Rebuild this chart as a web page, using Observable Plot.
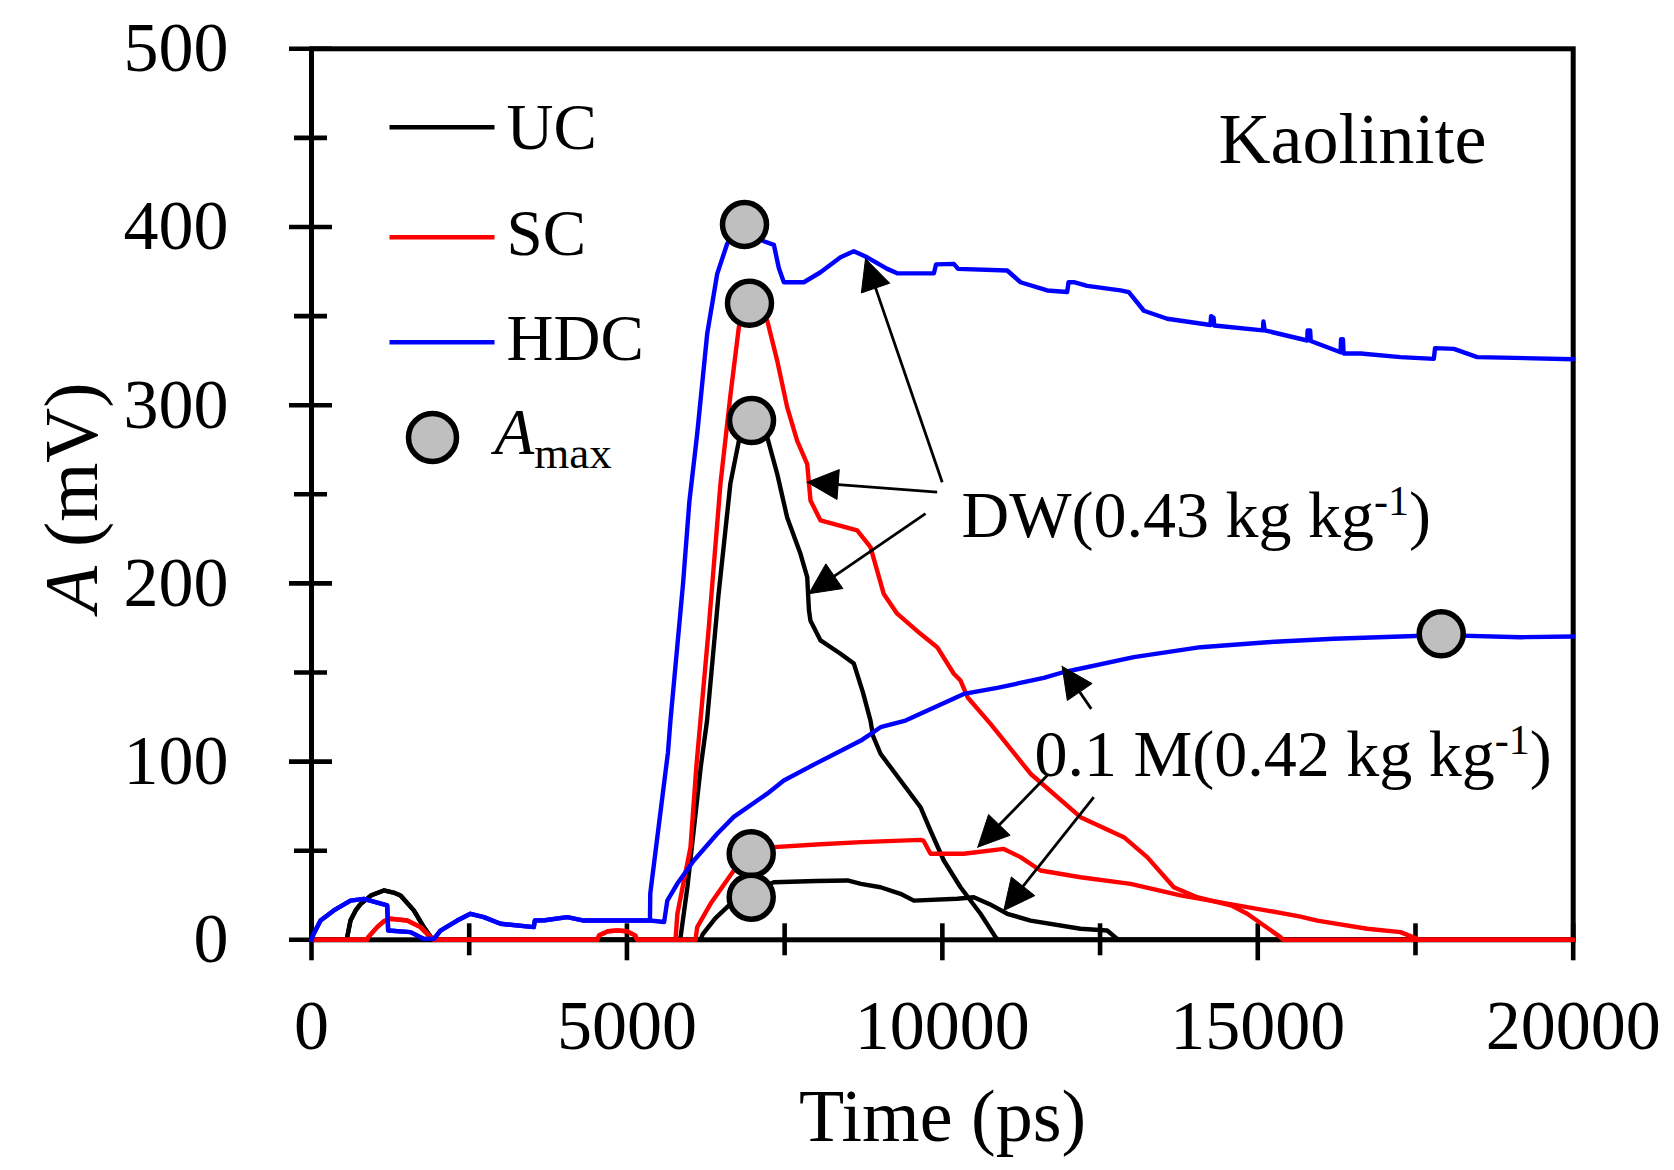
<!DOCTYPE html>
<html>
<head>
<meta charset="utf-8">
<script src="https://cdn.jsdelivr.net/npm/d3@7"></script>
<script src="https://cdn.jsdelivr.net/npm/@observablehq/plot@0.6"></script>
<style>
  html, body { margin: 0; padding: 0; background: #fff; }
</style>
</head>
<body>
<div id="chart"></div>
<script>
// ---------------- DATA (time in ps, amplitude A in mV) ----------------
const UC_early = [[0,0],[560,0],[566,1.5],[618,10.8],[700,16.5],[777,20],[950,25],[1146,27.7],[1300,26.5],[1411,24.9],[1622,16.5],[1780,7.1],[1913,0.5],[1950,0]];
const SC_early = [[0,0],[883,0],[900,1.5],[1041,7.1],[1150,10.5],[1252,11.8],[1517,10.8],[1728,7.1],[1913,0.5],[1950,0],[4529,0],[4560,2.5],[4700,4.8],[4850,5.2],[5000,4.8],[5130,2.5],[5163,0]];
const HDC_early = [[0,0],[30,3],[143,10.8],[354,16.5],[618,22],[829,23],[1200,19.3],[1215,5.2],[1569,4.3],[1780,0.5],[1939,0.5],[2045,5.2],[2309,10.8],[2520,14.6],[2731,12.7],[2996,9],[3524,7.1],[3540,10.8],[3700,11],[4053,12.7],[4317,10.8],[5365,10.8]];

const UC_DW_rest = [[5845,0],[5960,30],[6170,97],[6270,123],[6450,193],[6640,256],[6780,281],[6975,291],[7100,287],[7224,282],[7382,261.5],[7540,237],[7751,216.6],[7858,203.5],[7885,185],[7910,179],[8069,168],[8386,160.5],[8597,155],[8740,139],[8861,123],[8901,114.4],[9020,104.4],[9337,89.4],[9654,74.4],[9812,61.3],[10023,44.5],[10288,29.5],[10605,14.6],[10843,1.5],[10880,0],[20000,0]];
const UC_M_rest = [[6166,0],[6200,3],[6400,12],[6642,20.2],[6970,24],[7100,29],[7329,32.3],[8000,33],[8497,33.3],[8709,31.4],[9020,29.5],[9337,25.8],[9548,22],[10236,23],[10499,23.9],[10750,20],[11028,14.6],[11398,10.8],[12190,6.2],[12613,5.2],[12772,0.5],[12800,0],[20000,0]];
const SC_DW_rest = [[5770,0],[5800,14.6],[6008,52],[6100,97],[6290,172],[6483,256],[6642,306],[6774,343.8],[6870,354],[6943,357],[7050,355],[7224,347.5],[7382,325],[7540,298.9],[7699,280],[7858,267],[7910,246.5],[8069,235.3],[8650,229.7],[8861,220.3],[9072,194],[9284,183],[9654,171.7],[9918,164.2],[10182,149.3],[10288,145.5],[10402,136],[10764,121.2],[11398,93.2],[12190,68.8],[12877,57.6],[13247,46.4],[13669,29.5],[14039,23.9],[14600,19],[14833,14.6],[15360,1.5],[15400,0],[20000,0]];
const SC_M_rest = [[6087,0],[6114,7.1],[6325,20.2],[6694,38.9],[6850,45],[6970,48.3],[7100,51],[7329,52],[8000,53.5],[8709,54.8],[9654,56.1],[9700,55.7],[9812,48.3],[10340,48.3],[10974,51],[11239,46.4],[11556,38.9],[12190,35.1],[12983,31.4],[13775,24.9],[14833,18.3],[15150,16.4],[15678,13],[15943,10.8],[16735,6.2],[17263,4.3],[17527,0.5],[17560,0],[20000,0]];
const HDC_DW_rest = [[5370,26],[5650,105],[5690,123],[5890,200],[5990,246],[6114,284],[6272,340],[6431,373.7],[6589,390.6],[6700,396],[6864,398],[7000,396],[7170,392],[7329,390],[7408,377],[7487,369],[7804,369],[8069,374.6],[8386,383],[8597,386.4],[8808,383],[9126,376.5],[9285,374],[9866,374],[9900,379],[10182,379.3],[10250,376.5],[11028,375.6],[11239,369],[11662,364.4],[11979,363.5],[12000,369],[12085,369],[12296,367],[12824,364.4],[12956,363.4],[13194,353],[13564,348.5],[14250,345],[14260,350],[14300,349],[14310,344.7],[15080,342],[15090,347],[15110,342],[15784,336.3],[15790,342],[15830,342],[15840,336],[16312,329.7],[16320,337],[16350,337],[16360,329],[16630,329],[17263,327],[17791,326],[17810,332],[18108,331.6],[18479,327],[20000,325.8]];
const HDC_M_rest = [[5590,10],[5640,22],[5797,31.4],[6061,44.5],[6431,59.5],[6694,69],[7224,82],[7487,89.4],[8000,99],[8709,111.8],[9020,119.3],[9416,123],[10340,138],[10890,141.5],[11609,147],[11900,150],[13035,158.6],[14093,164.2],[15150,167],[16206,168.9],[17263,170.2],[17908,171],[19165,169.8],[20000,170.2]];

const UC_DW = UC_early.concat(UC_DW_rest);
const UC_M = UC_early.concat(UC_M_rest);
const SC_DW = SC_early.concat(SC_DW_rest);
const SC_M = SC_early.concat(SC_M_rest);
const HDC_DW = HDC_early.concat(HDC_DW_rest);
const HDC_M = HDC_early.concat(HDC_M_rest);

// A_max points [time, A]
const amaxPoints = [[6864,401.4],[6943,357.2],[6975,291.4],[6970,48.3],[6970,23.9],[17908,171.7]];

// annotation arrows: [fromT, fromA, tipT, tipA]
const dwArrows = [[9998,256.8,8782,382.2],[9918,251.2,7858,256.8],[9733,239.2,7883,194.2]];
const mArrows = [[12360,129.6,11900,153.4],[11662,92.2,10562,52],[12401,80,10974,16.4]];

const legendLabels = ["UC","SC","HDC"];
const legendColors = ["#000000","#ff0000","#0000ff"];
const yMajor = [0,100,200,300,400,500];
const yMinor = [50,150,250,350,450];
const xMajor = [0,5000,10000,15000,20000];
const xMinor = [2500,7500,12500,17500];

// ---------------- LAYOUT ----------------
const W = 1674, H = 1170;
const mL = 311, mR = 101.3, mT = 48.3, mB = 230.7;
const plotW = W - mL - mR, plotH = H - mT - mB;
const kx = plotW / 20000, ky = plotH / 500;
const xAt = px => (px - mL) / kx;          // pixel -> data (time)
const yAt = py => (H - mB - py) / ky;      // pixel -> data (A)
const X0 = mL, Y0 = H - mB;

const FONT = "'Liberation Serif', 'Times New Roman', Times, serif";
const lw = 4.4;
const aw = 4.6;

function headPolys(arrs, L, Wd) {
  const out = [], shafts = [];
  arrs.forEach((a, i) => {
    const [t1, A1, t2, A2] = a;
    const dxp = (t2 - t1) * kx, dyp = -(A2 - A1) * ky;
    const len = Math.hypot(dxp, dyp);
    const ux = dxp / len, uy = dyp / len;
    const bx = -ux * L, by = -uy * L, nx = -uy, ny = ux;
    const pts = [[0, 0], [bx + nx * Wd, by + ny * Wd], [bx - nx * Wd, by - ny * Wd], [0, 0]];
    pts.forEach(([px, py]) => out.push({t: t2 + px / kx, A: A2 - py / ky, id: i}));
    shafts.push({t1, A1, t2: t2 + (bx * 0.9) / kx, A2: A2 - (by * 0.9) / ky});
  });
  return {heads: out, shafts};
}
const allArrows = dwArrows.concat(mArrows);
const {heads, shafts} = headPolys(allArrows, 31, 15);

const line = (data, color) => Plot.line(data, {x: d => d[0], y: d => d[1], stroke: color, strokeWidth: lw, strokeLinejoin: "round", strokeLinecap: "round"});

const txt = (s, px, py, size, anchor = "start", extra = {}) =>
  Plot.text([s], {x: xAt(px), y: yAt(py), text: d => d, textAnchor: anchor, lineAnchor: "bottom", fontSize: size, fill: "black", fontFamily: FONT, ...extra});

const legendYs = [126.7, 236.7, 341.7];
const legendBase = [148, 254, 359.5];

const chart = Plot.plot({
  width: W, height: H,
  marginLeft: mL, marginRight: mR, marginTop: mT, marginBottom: mB,
  x: {domain: [0, 20000]},
  y: {domain: [0, 500]},
  style: {fontFamily: FONT, fontSize: "70px", background: "white", color: "black", overflow: "visible"},
  marks: [
    // axis tick labels
    Plot.axisY({ticks: yMajor, tickSize: 0, tickPadding: 83, fontSize: 70, tickFormat: d => String(d), label: null}),
    Plot.axisX({ticks: xMajor, tickSize: 0, tickPadding: 59, fontSize: 70, tickFormat: d => String(d), label: null}),
    // ticks crossing the axes
    Plot.ruleY(yMajor, {y: d => d, x1: () => xAt(X0 - 22), x2: () => xAt(X0 + 21), stroke: "black", strokeWidth: aw}),
    Plot.ruleY(yMinor, {y: d => d, x1: () => xAt(X0 - 17), x2: () => xAt(X0 + 16), stroke: "black", strokeWidth: aw}),
    Plot.ruleX(xMajor, {x: d => d, y1: () => yAt(Y0 + 21), y2: () => yAt(Y0 - 16), stroke: "black", strokeWidth: aw}),
    Plot.ruleX(xMinor, {x: d => d, y1: () => yAt(Y0 + 16), y2: () => yAt(Y0 - 16), stroke: "black", strokeWidth: aw}),
    Plot.frame({stroke: "black", strokeWidth: aw + 0.4}),
    // data
    line(UC_DW, "#000000"),
    line(UC_M, "#000000"),
    line(SC_M, "#ff0000"),
    line(SC_DW, "#ff0000"),
    line(HDC_DW, "#0000ff"),
    line(HDC_M, "#0000ff"),
    Plot.dot(amaxPoints, {x: d => d[0], y: d => d[1], r: 22, fill: "#bfbfbf", stroke: "black", strokeWidth: 5.5}),
    // arrows
    Plot.link(shafts, {x1: "t1", y1: "A1", x2: "t2", y2: "A2", stroke: "black", strokeWidth: 2.8}),
    Plot.line(heads, {x: "t", y: "A", z: "id", fill: "black", stroke: "black", strokeWidth: 1, curve: "linear-closed"}),
    // legend
    Plot.link(legendLabels, {x1: () => xAt(389), x2: () => xAt(494), y1: (d, i) => yAt(legendYs[i]), y2: (d, i) => yAt(legendYs[i]), stroke: (d, i) => legendColors[i], strokeWidth: 4.6}),
    Plot.text(legendLabels, {x: () => xAt(506), y: (d, i) => yAt(legendBase[i]), text: d => d, textAnchor: "start", lineAnchor: "bottom", fontSize: 65, fill: "black", fontFamily: FONT}),
    Plot.dot(["Amax"], {x: () => xAt(432), y: () => yAt(437), r: 24, fill: "#bfbfbf", stroke: "black", strokeWidth: 5.5}),
    txt("Amax", 494, 453, 65),
    // annotations
    txt("Kaolinite", 1218, 162, 72),
    txt("DW(0.43 kg kg-1)", 961, 536.6, 66),
    txt("0.1 M(0.42 kg kg-1)", 1034, 775.5, 66),
    // axis titles
    txt("Time (ps)", 942, 1140, 74, "middle"),
    Plot.text(["A (mV)"], {x: () => xAt(96), y: () => yAt(497), text: d => d, rotate: -90, textAnchor: "middle", lineAnchor: "bottom", fontSize: 76, fill: "black", fontFamily: FONT})
  ]
});

// rich text: italics, sub- and superscripts
const NS = "http://www.w3.org/2000/svg";
function rich(el, parts) {
  while (el.firstChild) el.removeChild(el.firstChild);
  for (const p of parts) {
    const ts = document.createElementNS(NS, "tspan");
    ts.textContent = p.text;
    for (const [k, v] of Object.entries(p.attrs || {})) ts.setAttribute(k, v);
    el.appendChild(ts);
  }
}
chart.querySelectorAll("text").forEach(el => {
  const s = el.textContent;
  const m = s.match(/^(.*kg kg)-1\)$/);
  if (m) rich(el, [{text: m[1]}, {text: "-1", attrs: {"font-size": "42", dy: "-22"}}, {text: ")", attrs: {dy: "22"}}]);
  else if (s === "Amax") rich(el, [{text: "A", attrs: {"font-style": "italic"}}, {text: "max", attrs: {"font-size": "45", dy: "14"}}]);
  else if (s === "A (mV)") rich(el, [{text: "A", attrs: {"font-style": "italic"}}, {text: " (mV)"}]);
});

document.getElementById("chart").appendChild(chart);
</script>
</body>
</html>
